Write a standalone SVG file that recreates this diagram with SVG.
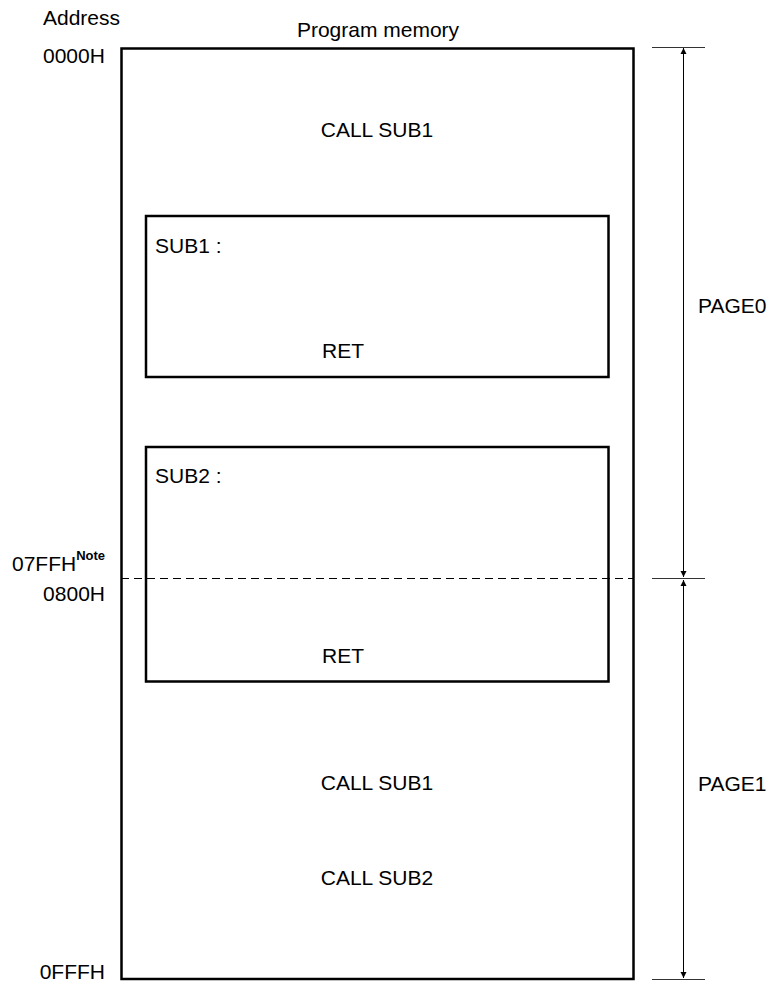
<svg xmlns="http://www.w3.org/2000/svg" width="776" height="987" viewBox="0 0 776 987">
  <defs>
    <marker id="arrow" viewBox="0 0 10 10" refX="10" refY="5" markerWidth="6" markerHeight="10" markerUnits="userSpaceOnUse" orient="auto">
      <path d="M0,0 L10,5 L0,10 z" fill="#000"/>
    </marker>
    <style>
      text { font-family: "Liberation Sans", Arial, sans-serif; font-size: 21px; fill: #000; }
      .mid { text-anchor: middle; }
      .end { text-anchor: end; }
      .box { fill: none; stroke: #000; stroke-width: 2.5; }
      .tick { stroke: #333; stroke-width: 1; }
      .dim { stroke: #000; stroke-width: 1; marker-end: url(#arrow); }
      .note { font-size: 13px; font-weight: bold; }
    </style>
  </defs>

  <!-- Address column -->
  <g id="addresses">
    <text x="43" y="25">Address</text>
    <text x="43" y="63">0000H</text>
    <text x="12" y="571">07FFH<tspan class="note" dy="-11">Note</tspan></text>
    <text x="105" y="601" class="end">0800H</text>
    <text x="105" y="979" class="end">0FFFH</text>
  </g>

  <!-- Program memory block -->
  <g id="memory">
    <text x="378" y="37" class="mid">Program memory</text>
    <rect class="box" x="121.5" y="48.5" width="512" height="930.5"/>
    <text x="377" y="137" class="mid">CALL SUB1</text>
    <text x="377" y="790" class="mid">CALL SUB1</text>
    <text x="377" y="885" class="mid">CALL SUB2</text>
  </g>

  <g id="sub1">
    <rect class="box" x="146" y="216" width="462.5" height="161"/>
    <text x="155" y="253">SUB1 :</text>
    <text x="343" y="358" class="mid">RET</text>
  </g>

  <g id="sub2">
    <rect class="box" x="146" y="447" width="462.5" height="234.5"/>
    <text x="155" y="483">SUB2 :</text>
    <text x="343" y="663" class="mid">RET</text>
  </g>

  <!-- Page boundary and page extents -->
  <g id="connectors">
    <line x1="121" y1="578.5" x2="634" y2="578.5" stroke="#000" stroke-width="1" stroke-dasharray="8,5"/>
    <line class="tick" x1="652" y1="47.5" x2="705" y2="47.5"/>
    <line class="tick" x1="652" y1="578.5" x2="705" y2="578.5"/>
    <line class="tick" x1="652" y1="979.5" x2="705" y2="979.5"/>
    <line class="dim" x1="683.5" y1="310" x2="683.5" y2="48"/>
    <line class="dim" x1="683.5" y1="310" x2="683.5" y2="577"/>
    <line class="dim" x1="683.5" y1="780" x2="683.5" y2="580"/>
    <line class="dim" x1="683.5" y1="780" x2="683.5" y2="978"/>
  </g>

  <g id="pages">
    <text x="698" y="313">PAGE0</text>
    <text x="698" y="791">PAGE1</text>
  </g>
</svg>
